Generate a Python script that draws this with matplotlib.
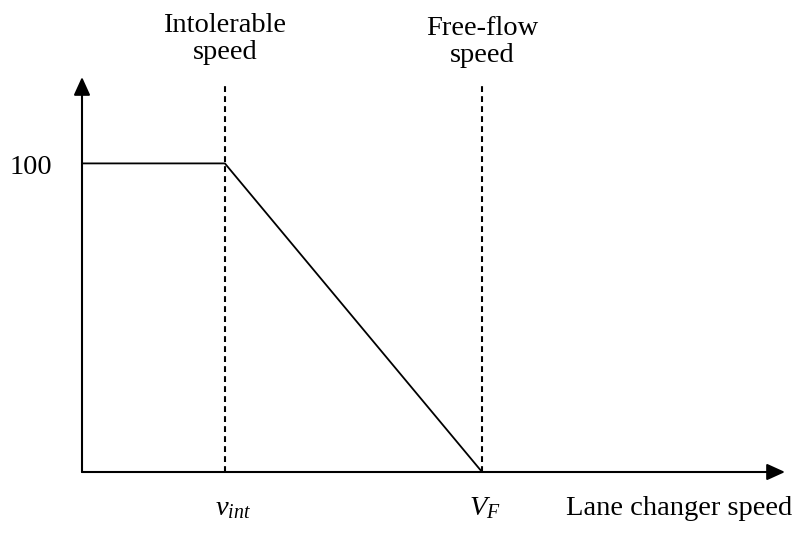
import matplotlib
matplotlib.use("Agg")
import matplotlib.pyplot as plt

plt.rcParams['font.family'] = ['Liberation Serif', 'DejaVu Serif']
plt.rcParams['mathtext.fontset'] = 'custom'
plt.rcParams['mathtext.rm'] = 'Liberation Serif'
plt.rcParams['mathtext.it'] = 'Liberation Serif:italic'

# Data (speed in units of v_int, acceptance in %)
speed = [0.0, 1.0, 2.8, 4.8]
acceptance = [100, 100, 0, 0]
v_int = 1.0
v_f = 2.8
y_label_value = 100
x_max = 4.92
y_max = 128

W, H = 804, 533
fig = plt.figure(figsize=(W / 100, H / 100), dpi=100)
x0, x1 = 82, 785
y0, y1 = 472, 77
ax = fig.add_axes([x0 / W, (H - y0) / H, (x1 - x0) / W, (y0 - y1) / H])
ax.set_xlim(0, x_max)
ax.set_ylim(0, y_max)
for s in ax.spines.values():
    s.set_visible(False)
ax.set_xticks([])
ax.set_yticks([])
ax.patch.set_alpha(0)

# Axes with arrows
astyle = '-|>,head_length=1.1,head_width=0.5'
ax.annotate('', xy=(x_max, 0), xytext=(0, 0),
            arrowprops=dict(arrowstyle=astyle, lw=1.5, color='black',
                            shrinkA=0, shrinkB=0), annotation_clip=False)
ax.annotate('', xy=(0, y_max), xytext=(0, 0),
            arrowprops=dict(arrowstyle=astyle, lw=1.5, color='black',
                            shrinkA=0, shrinkB=0), annotation_clip=False)

# Main curve
ax.plot(speed, acceptance, color='black', lw=1.3, clip_on=False, solid_joinstyle='miter')

# Dashed verticals
dash = (0, (2.8, 2.0))
ax.plot([v_int, v_int], [0, 125.5], color='black', lw=1.5, ls=dash, clip_on=False)
ax.plot([v_f, v_f], [0, 125.5], color='black', lw=1.5, ls=dash, clip_on=False)

fs = 20.5
ax.text(v_int, 133.8, 'Intolerable\nspeed', ha='center', va='baseline', fontsize=fs,
        linespacing=1.12)
ax.text(v_f, 132.8, 'Free-flow\nspeed', ha='center', va='baseline', fontsize=fs,
        linespacing=1.12)
ax.text(-0.36, y_label_value - 1.2, '100', ha='center', va='center', fontsize=fs)
ax.text(v_int + 0.06, -14, r'$v_{int}$', ha='center', va='baseline', fontsize=fs)
ax.text(v_f + 0.02, -14, r'$V_F$', ha='center', va='baseline', fontsize=fs)
ax.text(4.18, -14, 'Lane changer speed', ha='center', va='baseline', fontsize=fs)

fig.savefig('out.png', dpi=100)
